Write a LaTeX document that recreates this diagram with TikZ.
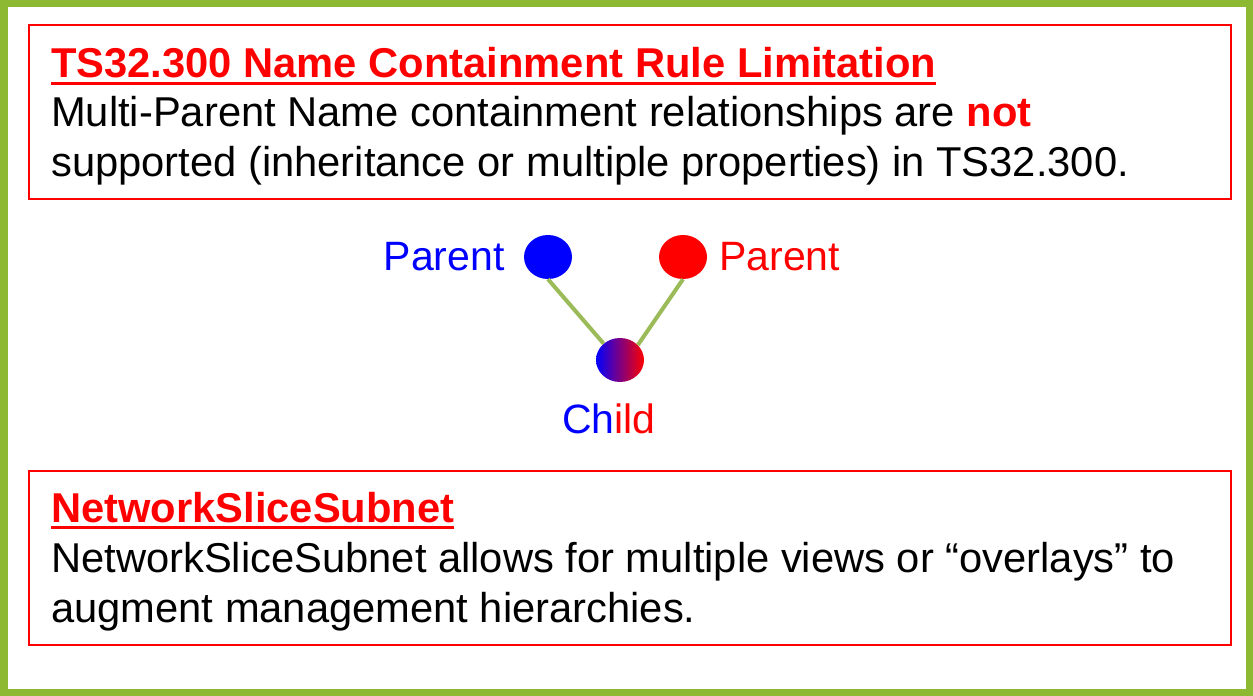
\documentclass[tikz,border=0pt]{standalone}
\usepackage{fontspec}
\setmainfont{Liberation Sans}
\usetikzlibrary{shapes.geometric,positioning}
\definecolor{framegreen}{RGB}{140,184,50}
\definecolor{linkgreen}{RGB}{155,187,89}
\definecolor{childmid}{RGB}{165,0,205}
\newcommand{\ulhead}[1]{\setbox0\hbox{#1}\rlap{\rule[-7bp]{\wd0}{3bp}}\box0}
\begin{document}
\begin{tikzpicture}[x=1bp, y=-1bp, inner sep=0pt, node distance=20bp,
  body text/.style={anchor=base west, font=\fontsize{41.7bp}{50bp}\selectfont},
  head text/.style={anchor=base west, text=red, font=\fontsize{41.7bp}{50bp}\selectfont\bfseries},
  red box/.style={draw=red, line width=2.2bp},
  main node/.style={ellipse, minimum width=48bp, minimum height=44bp, inner sep=0pt},
  label text/.style={font=\fontsize{41bp}{48bp}\selectfont}]
\useasboundingbox (0,0) rectangle (1253,696);
\draw[framegreen, line width=7.5bp] (3.75,3.75) rectangle (1249.25,692.25);
% upper box
\draw[red box] (29,25) rectangle (1231,199);
\node[head text] (limtitle) at (51,78) {\ulhead{TS32.300 Name Containment Rule Limitation}};
\node[body text] (limline1) at (51,127) {Multi-Parent Name containment relationships are {\color{red}\bfseries not}};
\node[body text] (limline2) at (51,177) {supported (inheritance or multiple properties) in TS32.300.};
% tree
\begin{scope}
\node[main node, fill=blue] (pb) at (548,257) {};
\node[main node, fill=red] (pr) at (683,257) {};
\node[main node, left color=blue, middle color=childmid, right color=red] (child) at (620,360) {};
\node[label text, text=blue, left=19bp of pb] (pblabel) {Parent};
\node[label text, text=red, right=12bp of pr] (prlabel) {Parent};
\node[label text, below=21bp of child, xshift=-11bp] (childlabel) {{\color{blue}Ch}{\color{red}ild}};
\end{scope}
\begin{scope}[every edge/.style={draw=linkgreen, line width=4bp}]
\draw (pb.south) edge (child.135);
\draw (pr.south) edge (child.40);
\end{scope}
% lower box
\draw[red box] (29,471) rectangle (1231,645);
\node[head text] (nsstitle) at (51,522) {\ulhead{NetworkSliceSubnet}};
\node[body text] (nssline1) at (51,572) {NetworkSliceSubnet allows for multiple views or “overlays” to};
\node[body text] (nssline2) at (51,622) {augment management hierarchies.};
\end{tikzpicture}
\end{document}
